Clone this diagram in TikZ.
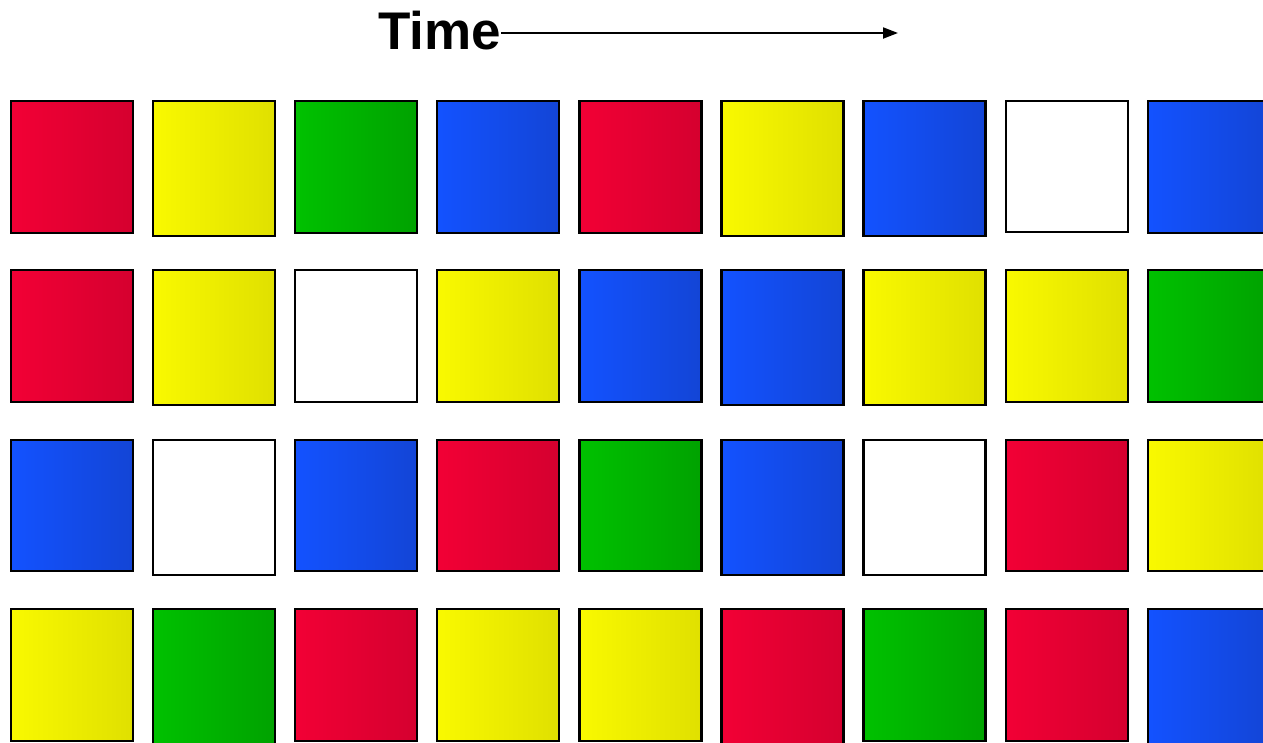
\documentclass[tikz,border=0pt]{standalone}
\usepackage{fontspec}
\setmainfont{Liberation Sans}
\usetikzlibrary{arrows.meta}
\definecolor{RL}{HTML}{F20035}
\definecolor{RR}{HTML}{D5002F}
\definecolor{YL}{HTML}{F9F900}
\definecolor{YR}{HTML}{E0E000}
\definecolor{GL}{HTML}{00C100}
\definecolor{GR}{HTML}{00A200}
\definecolor{BL}{HTML}{1352FF}
\definecolor{BR}{HTML}{1345D6}
\definecolor{WL}{HTML}{FFFFFF}
\definecolor{WR}{HTML}{FFFFFF}
\begin{document}
\begin{tikzpicture}[x=1pt,y=-1pt,
  sq/.style={draw=black,line width=2.3pt,minimum width=122pt,inner sep=0pt,outer sep=0pt,anchor=north west,shading=axis},
  timelbl/.style={font=\bfseries\fontsize{53}{60}\selectfont,inner sep=0pt,anchor=base west},
  timearrow/.style={line width=2pt,-{Triangle[length=15pt,width=11pt]}}]
\path[use as bounding box] (0,0) rectangle (1263,742);
\clip (0,0) rectangle (1263,742);
\node[timelbl] (time) at (378,49) {Time};
\coordinate (aend) at (898,33);
\draw[timearrow] (time.east |- aend) -- (aend);
\foreach \c/\h [count=\i] in {R/132,Y/135,G/132,B/132,R/132,Y/135,B/135,W/131,B/132}{
  \pgfmathsetmacro\xx{11+142.1*(\i-1)}
  \node[sq,left color=\c L,right color=\c R,minimum height=\h pt] (ra\i) at (\xx,101) {};
}
\foreach \c/\h [count=\i] in {R/132,Y/135,W/132,Y/132,B/132,B/135,Y/135,Y/132,G/132}{
  \pgfmathsetmacro\xx{11+142.1*(\i-1)}
  \node[sq,left color=\c L,right color=\c R,minimum height=\h pt] (rb\i) at (\xx,270) {};
}
\foreach \c/\h [count=\i] in {B/131,W/135,B/131,R/131,G/131,B/135,W/135,R/131,Y/131}{
  \pgfmathsetmacro\xx{11+142.1*(\i-1)}
  \node[sq,left color=\c L,right color=\c R,minimum height=\h pt] (rc\i) at (\xx,440) {};
}
\foreach \c/\h [count=\i] in {Y/132,G/136,R/132,Y/132,Y/132,R/136,G/132,R/132,B/136}{
  \pgfmathsetmacro\xx{11+142.1*(\i-1)}
  \node[sq,left color=\c L,right color=\c R,minimum height=\h pt] (rd\i) at (\xx,609) {};
}
\end{tikzpicture}
\end{document}
